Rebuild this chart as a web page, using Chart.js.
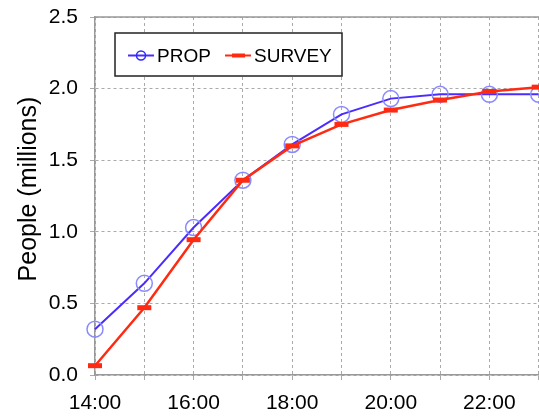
<!DOCTYPE html>
<html>
<head>
<meta charset="utf-8">
<script src="https://cdn.jsdelivr.net/npm/chart.js@4"></script>
<style>
  html, body { margin: 0; padding: 0; background: #fff; overflow: hidden; }
  #wrap { width: 600px; height: 417px; }
</style>
</head>
<body>
<div id="wrap"><canvas id="myChart" width="600" height="417"></canvas></div>
<script>
// hours of the day (x axis)
let hours = [14, 15, 16, 17, 18, 19, 20, 21, 22, 23];
// people, millions
let prop   = [0.32, 0.64, 1.03, 1.36, 1.61, 1.82, 1.93, 1.96, 1.96, 1.96];
let survey = [0.065, 0.47, 0.945, 1.36, 1.60, 1.75, 1.85, 1.92, 1.98, 2.01];
let yTicks = [0, 0.5, 1.0, 1.5, 2.0, 2.5];

let fontName = "'Liberation Sans', Arial, Helvetica, sans-serif";

function pts(vals){
  return hours.map((h, i) => ({x: h, y: vals[i]}));
}

// legend box drawn inside the plot, like the original
let boxLegend = {
  id: "boxLegend",
  afterDatasetsDraw(chart){
    let ctx = chart.ctx;
    let a = chart.chartArea;
    // top border of the plot frame
    ctx.save();
    ctx.strokeStyle = "#999";
    ctx.lineWidth = 1.5;
    ctx.beginPath();
    ctx.moveTo(a.left, a.top);
    ctx.lineTo(a.right, a.top);
    ctx.stroke();

    let x0 = 115, y0 = 33, w = 227, h = 43;
    ctx.fillStyle = "#fff";
    ctx.fillRect(x0, y0, w, h);
    ctx.strokeStyle = "#222";
    ctx.lineWidth = 1.5;
    ctx.strokeRect(x0, y0, w, h);

    let cy = y0 + h / 2 + 1;
    let items = [
      {ds: chart.data.datasets[0], x: 128},
      {ds: chart.data.datasets[1], x: 225}
    ];
    ctx.font = "19px " + fontName;
    ctx.textBaseline = "middle";
    items.forEach(it => {
      ctx.strokeStyle = it.ds.borderColor;
      ctx.lineWidth = 2;
      ctx.beginPath();
      ctx.moveTo(it.x, cy);
      ctx.lineTo(it.x + 26, cy);
      ctx.stroke();
      if (it.ds.pointStyle === "circle") {
        ctx.strokeStyle = "#2a2aff";
        ctx.lineWidth = 1.5;
        ctx.beginPath();
        ctx.arc(it.x + 13, cy, 4.5, 0, Math.PI * 2);
        ctx.stroke();
      } else {
        ctx.strokeStyle = it.ds.pointBorderColor;
        ctx.lineWidth = 4;
        ctx.beginPath();
        ctx.moveTo(it.x + 7, cy);
        ctx.lineTo(it.x + 20, cy);
        ctx.stroke();
      }
      ctx.fillStyle = "#000";
      ctx.fillText(it.ds.label, it.x + 29, cy + 1);
    });
    ctx.restore();
  }
};

new Chart("myChart", {
  type: "line",
  data: {
    datasets: [{
      label: "PROP",
      data: pts(prop),
      borderColor: "#4a2cff",
      borderWidth: 2,
      pointStyle: "circle",
      pointRadius: 8,
      pointBorderWidth: 1.5,
      pointBorderColor: "#8a8aff",
      pointBackgroundColor: "rgba(0,0,0,0)",
      clip: false,
      order: 1
    }, {
      label: "SURVEY",
      data: pts(survey),
      borderColor: "#ff2a12",
      borderWidth: 2.5,
      pointStyle: "line",
      pointRadius: 7,
      pointBorderWidth: 5,
      pointBorderColor: "#ff2a12",
      clip: false,
      order: 0
    }]
  },
  options: {
    responsive: false,
    animation: false,
    layout: { padding: { top: 17, left: 0, right: 5, bottom: 0 } },
    plugins: { legend: { display: false }, tooltip: { enabled: false } },
    scales: {
      x: {
        type: "linear",
        min: 14, max: 24,
        grid: { color: "#aaa", tickLength: 5, lineWidth: 1 },
        border: { color: "#999", width: 1.5, dash: [3, 3] },
        ticks: {
          stepSize: 1, autoSkip: false, maxRotation: 0, padding: 11,
          color: "#000", font: { size: 21, family: fontName },
          callback: v => (v % 2 === 0 && v < 24 ? v + ":00" : "")
        },
        afterFit(s){ s.height = 42; }
      },
      y: {
        min: 0, max: 2.5,
        grid: { color: "#aaa", tickLength: 5, lineWidth: 1 },
        border: { color: "#999", width: 1.5, dash: [3, 3] },
        afterBuildTicks(s){ s.ticks = yTicks.map(v => ({value: v})); },
        ticks: {
          color: "#000", font: { size: 21, family: fontName }, padding: 12,
          callback: v => v.toFixed(1)
        },
        title: {
          display: true, text: "  People (millions)",
          color: "#000", font: { size: 25, family: fontName },
          padding: { top: 14, bottom: 0 }
        },
        afterFit(s){ s.width = 95; s.paddingTop = 0; s.paddingBottom = 0; }
      }
    }
  },
  plugins: [boxLegend]
});
</script>
</body>
</html>
